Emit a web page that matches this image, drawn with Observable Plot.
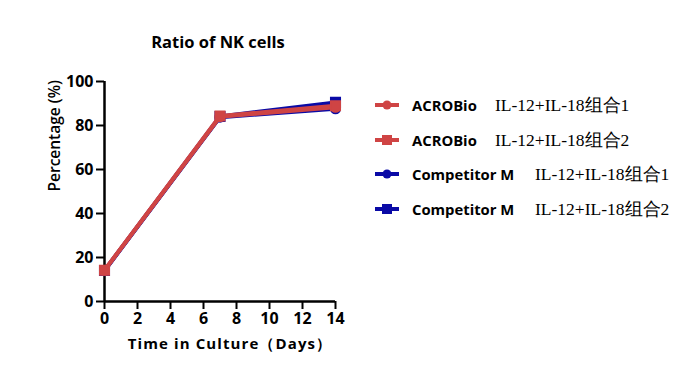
<!DOCTYPE html>
<html><head><meta charset="utf-8">
<script src="https://cdn.jsdelivr.net/npm/d3@7"></script>
<script src="https://cdn.jsdelivr.net/npm/@observablehq/plot@0.6"></script>
<style>
body{margin:0;background:#fff;}
#wrap{position:relative;width:694px;height:373px;font-family:"Open Sans","Liberation Sans",Arial,sans-serif;}
#title{position:absolute;left:0;width:436px;top:31px;text-align:center;font-weight:bold;font-size:16.5px;line-height:22px;color:#000;}
.lg{position:absolute;left:373px;height:20px;display:flex;align-items:center;white-space:nowrap;}
.lg .n{font-weight:bold;font-size:14.8px;margin-left:11px;color:#000;}
.s{position:absolute;height:20px;line-height:20px;white-space:nowrap;font-family:"Liberation Serif","Times New Roman",serif;font-size:17.5px;color:#000;}
</style></head>
<body><div id="wrap"><div id="title">Ratio of NK cells</div></div>
<script>
const days = [0, 7, 14];
const seriesNames = ["ACROBio IL-12+IL-18组合1","ACROBio IL-12+IL-18组合2","Competitor M IL-12+IL-18组合1","Competitor M IL-12+IL-18组合2"];
const brandLabels = ["ACROBio","ACROBio","Competitor M","Competitor M"];
const comboLabels = ["IL-12+IL-18组合1","IL-12+IL-18组合2","IL-12+IL-18组合1","IL-12+IL-18组合2"];
const acro1 = [14.2, 84.0, 88.3];
const acro2 = [14.2, 84.3, 89.0];
const comp1 = [14.0, 83.8, 87.6];
const comp2 = [14.1, 84.1, 90.5];
const colors = ["#cf4444","#cf4444","#0a0aa6","#0a0aa6"];
const symbols = ["circle","square","circle","square"];
const xTicks = [0,2,4,6,8,10,12,14];
const yTicks = [0,20,40,60,80,100];
const xLabel = "Time in Culture（Days）";
const yLabel = "Percentage (%)";

const values = [acro1, acro2, comp1, comp2];
const rows = [];
[2,3,0,1].forEach(i => days.forEach((d,j) => rows.push({day:d, v:values[i][j], s:seriesNames[i], i})));

const mk = i => rows.filter(r => r.i === i);
const marks = [];
[2,3,0,1].forEach(i => {
  marks.push(Plot.line(mk(i), {x:"day", y:"v", stroke:colors[i], strokeWidth:4}));
  marks.push(Plot.dot(mk(i), {x:"day", y:"v", fill:colors[i], stroke:colors[i], symbol:symbols[i], r: symbols[i]==="square"?5.4:4.8}));
});

const chart = Plot.plot({
  width:694, height:373,
  marginLeft:104, marginRight:359, marginTop:81, marginBottom:72,
  style:{fontFamily:"'Open Sans','Liberation Sans',Arial,sans-serif", overflow:"visible"},
  x:{domain:[0,14]},
  y:{domain:[0,100]},
  marks:[
    Plot.axisX({ticks:xTicks, tickSize:8, tickPadding:3, strokeWidth:2, stroke:"#000", fontSize:16, fontWeight:"bold", fill:"#000", label:null}),
    Plot.axisY({ticks:yTicks, tickSize:8, tickPadding:3, strokeWidth:2, stroke:"#000", fontSize:16, fontWeight:"bold", fill:"#000", label:null}),
    Plot.ruleX([0], {stroke:"#000", strokeWidth:2.5}),
    Plot.ruleY([0], {stroke:"#000", strokeWidth:2.5}),
    Plot.text([xLabel], {frameAnchor:"bottom", dy:47, dx:10, fontSize:15, fontWeight:"bold", fill:"#000"}),
    Plot.text([yLabel], {frameAnchor:"left", dx:-49, rotate:-90, fontSize:15.5, fontWeight:"600", fill:"#000"}),
    ...marks
  ]
});
d3.select(chart).selectAll("text").filter(function(){ return this.textContent === xLabel; }).style("letter-spacing","1.1px");
chart.style.position = "absolute";
chart.style.left = "0"; chart.style.top = "0";
const wrap = document.getElementById("wrap");
wrap.insertBefore(chart, wrap.firstChild);

const legendTops = [95, 130, 164, 199];
const textLeft = [495, 495, 535, 535];
seriesNames.forEach((n, i) => {
  const div = document.createElement("div");
  div.className = "lg";
  div.style.top = legendTops[i] + "px";
  const svg = d3.create("svg").attr("width", 28).attr("height", 20);
  svg.append("line").attr("x1",2).attr("x2",26).attr("y1",10).attr("y2",10).attr("stroke",colors[i]).attr("stroke-width",4);
  if (symbols[i] === "circle") svg.append("circle").attr("cx",14).attr("cy",10).attr("r",4.5).attr("fill",colors[i]);
  else svg.append("rect").attr("x",9).attr("y",5).attr("width",10).attr("height",10).attr("fill",colors[i]);
  div.appendChild(svg.node());
  const b = document.createElement("span"); b.className = "n"; b.textContent = brandLabels[i];
  div.appendChild(b);
  wrap.appendChild(div);
  const s = document.createElement("span"); s.className = "s"; s.textContent = comboLabels[i];
  s.style.top = legendTops[i] + "px"; s.style.left = textLeft[i] + "px";
  wrap.appendChild(s);
});
</script></body></html>
